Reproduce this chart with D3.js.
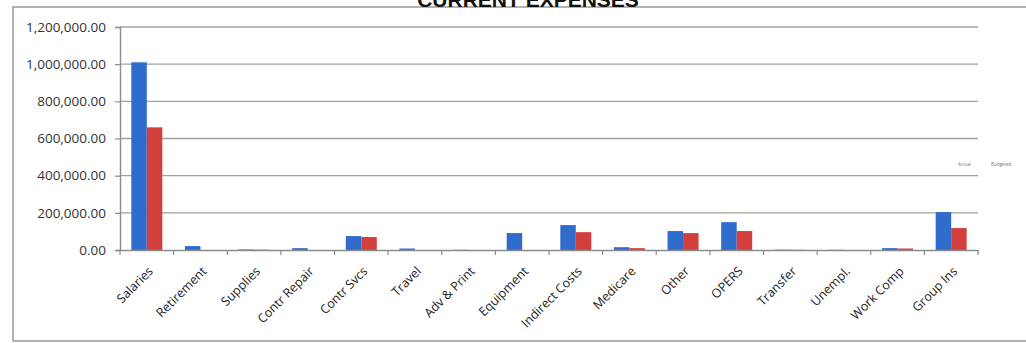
<!DOCTYPE html>
<html>
<head>
<meta charset="utf-8">
<script src="https://cdn.jsdelivr.net/npm/d3@7"></script>
<style>
  body { margin: 0; background: #fff; }
  svg { display: block; }
</style>
</head>
<body>
<div id="chart"></div>
<script>
// categories and the two series
const categories = ['Salaries', 'Retirement', 'Supplies', 'Contr Repair', 'Contr Svcs', 'Travel',
  'Adv & Print', 'Equipment', 'Indirect Costs', 'Medicare', 'Other', 'OPERS', 'Transfer',
  'Unempl.', 'Work Comp', 'Group Ins']
const seriesNames = ['Actual', 'Budgeted']
const seriesA = [1010000, 21000, 3000, 10000, 75000, 8000, 1000, 91000, 134000, 15000, 102000, 150000, 2000, 1000, 10000, 204000]
const seriesB = [660000, 0, 2000, 0, 70000, 0, 0, 0, 96000, 10000, 91000, 102000, 1000, 0, 8000, 118000]
const yTicks = [0, 200000, 400000, 600000, 800000, 1000000, 1200000]

const width = 1026
const height = 343
const plot = { left: 120, right: 978, top: 27, bottom: 250 }

const svg = d3.select('#chart')
  .append('svg')
  .attr('width', width)
  .attr('height', height)

// outer frame
svg.append('path')
  .attr('d', 'M13,341 L13,7 L1026,7')
  .attr('fill', 'none')
  .attr('stroke', '#9a9a9a')
  .attr('stroke-width', 1.5)
svg.append('line')
  .attr('x1', 13).attr('x2', 1026)
  .attr('y1', 341).attr('y2', 341)
  .attr('stroke', '#9a9a9a')
  .attr('stroke-width', 1.5)

// title, its top half is cut off in the scan
svg.append('text')
  .attr('x', 528)
  .attr('y', 7)
  .attr('text-anchor', 'middle')
  .attr('font-family', 'Liberation Sans, Arial, sans-serif')
  .attr('font-weight', 'bold')
  .attr('font-size', 21)
  .attr('fill', '#111')
  .text('CURRENT EXPENSES')

const xScale = d3.scaleBand()
  .domain(categories)
  .range([plot.left, plot.right])

const xInner = d3.scaleBand()
  .domain(seriesNames)
  .range([0, 31])

const yScale = d3.scaleLinear()
  .domain([0, 1200000])
  .range([plot.bottom, plot.top])

// gridlines
svg.append('g')
  .selectAll('line')
  .data(yTicks.filter(d => d > 0))
  .enter()
  .append('line')
  .attr('x1', plot.left)
  .attr('x2', plot.right)
  .attr('y1', d => yScale(d))
  .attr('y2', d => yScale(d))
  .attr('stroke', '#a0a0a0')
  .attr('stroke-width', 1.4)

// y axis
const yAxis = d3.axisLeft(yScale)
  .tickValues(yTicks)
  .tickSize(5)
  .tickPadding(9)
  .tickFormat(d3.format(',.2f'))

const yG = svg.append('g')
  .attr('transform', 'translate(' + plot.left + ',0)')
  .call(yAxis)
yG.select('.domain').attr('stroke', '#8c8c8c').attr('stroke-width', 1.4)
yG.selectAll('.tick line').attr('stroke', '#8c8c8c').attr('stroke-width', 1.2)
yG.selectAll('.tick text')
  .attr('font-family', 'Open Sans, sans-serif')
  .attr('font-size', 13.5)
  .attr('fill', '#333')

// bars
const series = [seriesA, seriesB]
const colors = ['#2f6ccb', '#d23f3c']

series.forEach((values, i) => {
  svg.append('g')
    .selectAll('rect')
    .data(values)
    .enter()
    .append('rect')
    .attr('x', (d, j) => xScale(categories[j]) + (xScale.bandwidth() - 31) / 2 + xInner(seriesNames[i]))
    .attr('y', d => yScale(d))
    .attr('width', xInner.bandwidth())
    .attr('height', d => plot.bottom - yScale(d))
    .attr('fill', colors[i])
})

// x axis
const xAxis = d3.axisBottom(xScale)
  .tickSize(0)
  .tickPadding(0)

const xG = svg.append('g')
  .attr('transform', 'translate(0,' + plot.bottom + ')')
  .call(xAxis)
xG.select('.domain').attr('stroke', '#8c8c8c').attr('stroke-width', 1.4)
xG.selectAll('.tick text')
  .attr('font-family', 'Open Sans, sans-serif')
  .attr('font-size', 12.5)
  .attr('fill', '#222')
  .attr('text-anchor', 'end')
  .attr('dy', null)
  .attr('y', 0)
  .attr('x', 0)
  .attr('transform', 'translate(7,22) rotate(-45)')

// category boundary ticks
svg.append('g')
  .selectAll('line')
  .data(categories.concat(['end']))
  .enter()
  .append('line')
  .attr('x1', (d, j) => plot.left + j * xScale.step())
  .attr('x2', (d, j) => plot.left + j * xScale.step())
  .attr('y1', plot.bottom)
  .attr('y2', plot.bottom + 5)
  .attr('stroke', '#8c8c8c')
  .attr('stroke-width', 1.2)

// tiny legend text
svg.append('g')
  .selectAll('text')
  .data(seriesNames)
  .enter()
  .append('text')
  .attr('x', (d, i) => 958 + i * 33)
  .attr('y', 166)
  .attr('font-family', 'Open Sans, sans-serif')
  .attr('font-size', 4.5)
  .attr('fill', '#777')
  .text(d => d)
</script>
</body>
</html>
